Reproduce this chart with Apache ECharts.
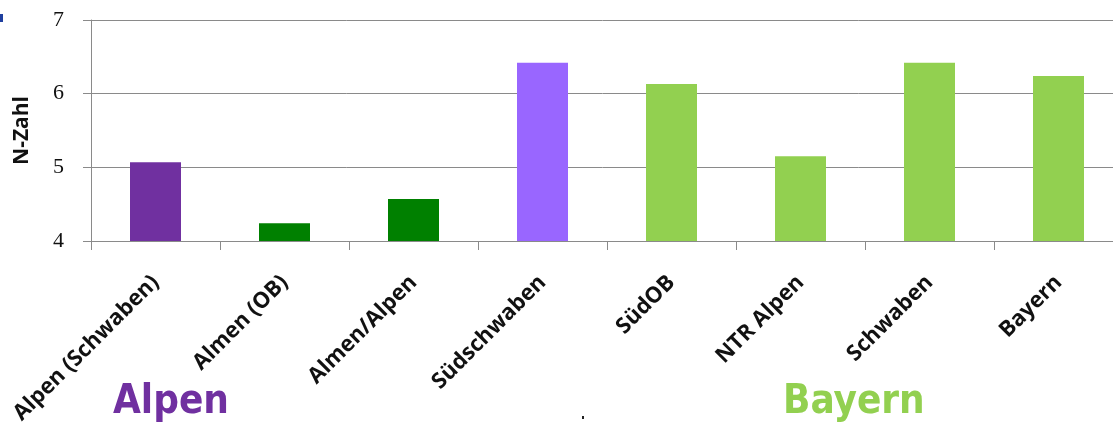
<!DOCTYPE html>
<html>
<head>
<meta charset="utf-8">
<script src="https://cdn.jsdelivr.net/npm/echarts@6/dist/echarts.min.js"></script>
<style>
  html, body { margin: 0; padding: 0; background: #ffffff; }
  #chart { width: 1113px; height: 424px; }
</style>
</head>
<body>
<div id="chart"></div>
<script>
// N-Zahl per Gebiet
const categories = ['Alpen (Schwaben)', 'Almen (OB)', 'Almen/Alpen', 'Südschwaben', 'SüdOB', 'NTR Alpen', 'Schwaben', 'Bayern'];
const nValues = [5.07, 4.24, 4.57, 6.42, 6.13, 5.15, 6.42, 6.24];
const barColors = ['#7030A0', '#008000', '#008000', '#9966FF', '#92D050', '#92D050', '#92D050', '#92D050'];
const yTicks = [4, 5, 6, 7];
const groupLabels = ['Alpen', 'Bayern'];
const groupColors = ['#7030A0', '#92D050'];

const chart = echarts.init(document.getElementById('chart'), null, { renderer: 'canvas' });

const axisGrey = '#8a8a8a';

chart.setOption({
  animation: false,
  backgroundColor: '#ffffff',
  // the last category runs a little past the right edge
  grid: { left: 91, top: 20, right: -10, bottom: 183, containLabel: false, outerBoundsMode: 'none' },
  xAxis: {
    type: 'category',
    data: categories,
    axisLine: { show: true, lineStyle: { color: axisGrey, width: 1 } },
    axisTick: { show: true, length: 9, lineStyle: { color: axisGrey } },
    axisLabel: {
      interval: 0,
      rotate: 45,
      margin: 38,
      color: '#111111',
      fontFamily: 'Open Sans',
      fontWeight: 'bold',
      fontSize: 22
    }
  },
  yAxis: {
    type: 'value',
    min: yTicks[0],
    max: yTicks[yTicks.length - 1],
    interval: 1,
    name: 'N-Zahl',
    nameLocation: 'middle',
    nameRotate: 90,
    nameGap: 58,
    nameTextStyle: { color: '#111111', fontFamily: 'Open Sans', fontWeight: 'bold', fontSize: 21 },
    axisLine: { show: true, lineStyle: { color: axisGrey, width: 1 } },
    axisTick: { show: true, length: 8, lineStyle: { color: axisGrey } },
    axisLabel: {
      margin: 27,
      color: '#111111',
      fontFamily: 'Liberation Serif',
      fontSize: 22
    },
    splitLine: { show: true, lineStyle: { color: axisGrey, width: 1 } }
  },
  series: [{
    type: 'bar',
    barWidth: 51,
    data: nValues.map((v, i) => ({ value: v, itemStyle: { color: barColors[i] } }))
  }],
  graphic: [
    {
      type: 'text', left: 113, top: 383,
      style: { text: groupLabels[0], fill: groupColors[0], font: 'bold 40px "DejaVu Sans Condensed", "DejaVu Sans"' }
    },
    {
      type: 'text', left: 783, top: 383,
      style: { text: groupLabels[1], fill: groupColors[1], font: 'bold 40px "DejaVu Sans Condensed", "DejaVu Sans"' }
    },
    { type: 'rect', shape: { x: 0, y: 14, width: 3, height: 8 }, style: { fill: '#1f3f9f' } },
    { type: 'rect', shape: { x: 582, y: 416, width: 2, height: 3 }, style: { fill: '#222222' } }
  ]
});
</script>
</body>
</html>
